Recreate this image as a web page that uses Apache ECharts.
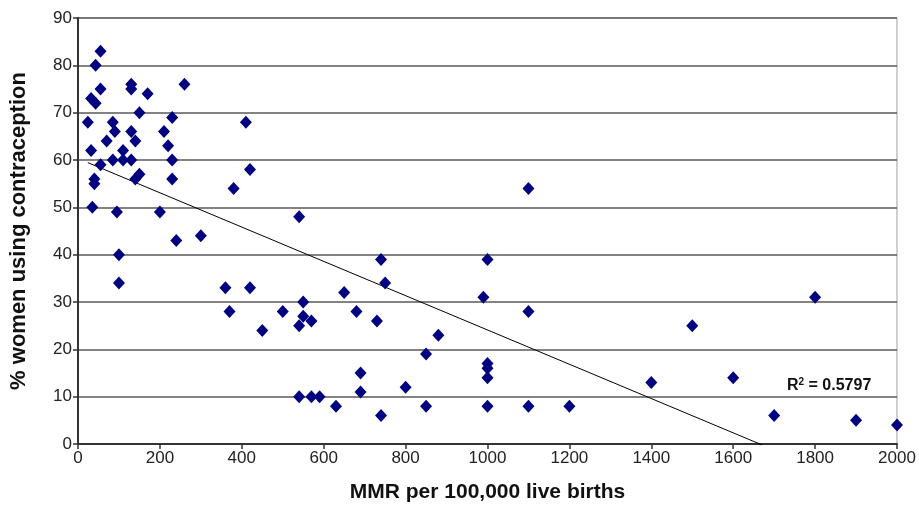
<!DOCTYPE html>
<html>
<head>
<meta charset="utf-8">
<script src="https://cdn.jsdelivr.net/npm/echarts@6/dist/echarts.min.js"></script>
<style>html,body{margin:0;padding:0;background:#fff}#c{width:919px;height:508px}</style>
</head>
<body>
<div id="c"></div>
<script>
// MMR per 100,000 live births
var mmr = [55,43,55,32,43,130,130,170,260,24,85,150,230,410,90,130,210,70,140,220,32,110,85,110,130,230,55,420,150,140,230,40,40,380,35,95,200,540,300,240,100,100,360,420,740,750,650,370,500,550,680,550,570,540,450,730,880,1100,1000,990,1100,1000,1000,1000,1000,1100,1200,540,570,590,630,690,690,740,800,850,850,1800,1500,1400,1600,1700,1900,2000];
// % women using contraception
var contraception = [83,80,75,73,72,76,75,74,76,68,68,70,69,68,66,66,66,64,64,63,62,62,60,60,60,60,59,58,57,56,56,56,55,54,50,49,49,48,44,43,40,34,33,33,39,34,32,28,28,30,28,27,26,25,24,26,23,54,39,31,28,17,16,14,8,8,8,10,10,10,8,15,11,6,12,19,8,31,25,13,14,6,5,4];
var xTicks = [0,200,400,600,800,1000,1200,1400,1600,1800,2000];
var yTicks = [0,10,20,30,40,50,60,70,80,90];
var trendEndX = 1670;
var rSquaredText = '0.5797';

var pts = mmr.map(function(x,i){return [x, contraception[i]];});
// least-squares linear trend
var n = mmr.length, sx=0, sy=0, sxx=0, sxy=0;
for (var i=0;i<n;i++){sx+=mmr[i];sy+=contraception[i];sxx+=mmr[i]*mmr[i];sxy+=mmr[i]*contraception[i];}
var slope = (n*sxy - sx*sy)/(n*sxx - sx*sx);
var intercept = (sy - slope*sx)/n;
var minX = Math.min.apply(null, mmr);
var trend = [[minX, intercept+slope*minX],[trendEndX, intercept+slope*trendEndX]];

var FONT = '"Liberation Sans", Arial, sans-serif';
var chart = echarts.init(document.getElementById('c'), null, {renderer:'canvas'});
chart.setOption({
  animation:false,
  grid:{left:77, right:22, top:18, bottom:61, show:true, borderColor:'#a0a0a0', borderWidth:1, backgroundColor:'#fff'},
  xAxis:{
    type:'value', min:xTicks[0], max:xTicks[xTicks.length-1], interval:xTicks[1]-xTicks[0],
    name:'MMR per 100,000 live births', nameLocation:'middle', nameGap:38,
    nameTextStyle:{fontFamily:FONT, fontWeight:'bold', fontSize:21, color:'#111'},
    axisLine:{show:true, onZero:false, lineStyle:{color:'#333', width:2}},
    axisTick:{show:true, inside:false, length:5, lineStyle:{color:'#333', width:1.5}},
    axisLabel:{fontFamily:FONT, fontSize:17, color:'#222', margin:6, formatter:function(v){return String(v);}},
    splitLine:{show:false}
  },
  yAxis:{
    type:'value', min:yTicks[0], max:yTicks[yTicks.length-1], interval:yTicks[1]-yTicks[0],
    name:'% women using contraception', nameLocation:'middle', nameGap:48,
    nameTextStyle:{fontFamily:FONT, fontWeight:'bold', fontSize:22, color:'#111'},
    axisLine:{show:true, lineStyle:{color:'#333', width:2}},
    axisTick:{show:true, inside:false, length:5, lineStyle:{color:'#333', width:1.5}},
    axisLabel:{fontFamily:FONT, fontSize:17, color:'#222', margin:6, formatter:function(v){return String(v);}},
    splitLine:{show:true, lineStyle:{color:'#5a5a5a', width:1.5}}
  },
  series:[
    {
      type:'line', data:trend, showSymbol:false, symbol:'none', silent:true,
      lineStyle:{color:'#000', width:1}, z:3, clip:false
    },
    {
      type:'scatter', data:pts, symbol:'diamond', symbolSize:[12,13],
      itemStyle:{color:'#000080', opacity:1}, z:4
    }
  ],
  graphic:[{
    type:'text', left:787, top:377,
    style:{
      text:'R{s|2} = ' + rSquaredText,
      font:'bold 16px "Liberation Sans", Arial',
      fill:'#111',
      rich:{s:{fontSize:10, fontWeight:'bold', verticalAlign:'top', padding:[0,0,7,0], fontFamily:'Liberation Sans'}}
    }
  }]
});
</script>
</body>
</html>
